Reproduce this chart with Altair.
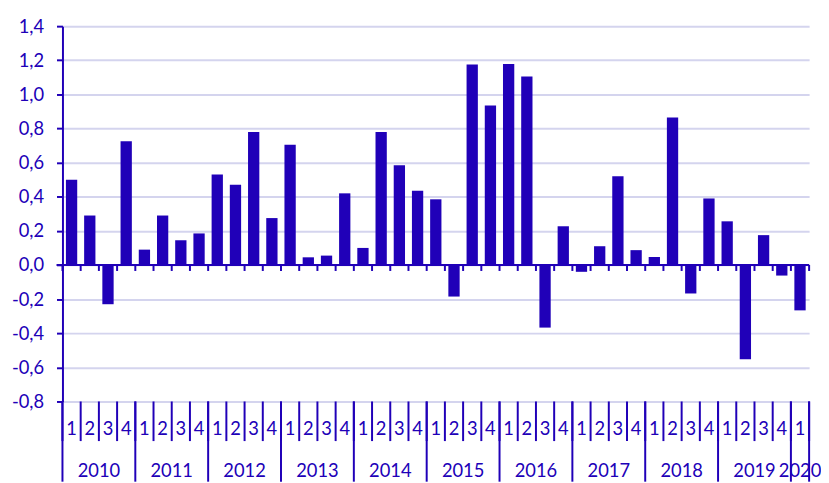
import altair as alt
import pandas as pd

years = ["2010", "2011", "2012", "2013", "2014", "2015", "2016", "2017", "2018", "2019", "2020"]
quarters = ["1", "2", "3", "4"]
values = [
    0.50, 0.29, -0.23, 0.725,
    0.09, 0.29, 0.145, 0.185,
    0.53, 0.47, 0.78, 0.275,
    0.705, 0.045, 0.055, 0.42,
    0.10, 0.78, 0.585, 0.435,
    0.385, -0.185, 1.175, 0.935,
    1.178, 1.105, -0.367, 0.227,
    -0.04, 0.11, 0.52, 0.087,
    0.047, 0.865, -0.167, 0.39,
    0.256, -0.552, 0.175, -0.062,
    -0.266,
]
y_ticks = [-0.8, -0.6, -0.4, -0.2, 0.0, 0.2, 0.4, 0.6, 0.8, 1.0, 1.2, 1.4]

BLUE = "#2000B8"
GRID = "#D4D4EE"
FONT = "Lato"
FS = 18.5

rows = []
for i, v in enumerate(values):
    rows.append({"i": i, "year": years[i // 4], "q": quarters[i % 4], "v": v})
df = pd.DataFrame(rows)

yr_rows = []
for k, y in enumerate(years):
    n = len([r for r in rows if r["year"] == y])
    yr_rows.append({"year": y, "start": k * 4, "mid": k * 4 + n / 2})
yr_rows.append({"year": "", "start": len(values), "mid": len(values)})
ydf = pd.DataFrame(yr_rows)

bnd = pd.DataFrame({"b": list(range(len(values) + 1))})

N = len(values)
xs = alt.Scale(domain=[0, N], nice=False, zero=False)
ys = alt.Scale(domain=[-0.8, 1.4], nice=False)

label_expr = "replace(replace(format(datum.value, '.1f'), '.', ','), '\u2212', '-')"

def yaxis():
    return alt.Axis(
        values=y_ticks,
        labelExpr=label_expr, title=None, labelOverlap=False,
        domainColor=BLUE, domainWidth=2, tickColor=BLUE, tickSize=6, tickWidth=2,
        gridColor=GRID, gridWidth=2, labelColor=BLUE, labelFont=FONT,
        labelFontSize=FS, labelPadding=13,
    )

bars = alt.Chart(df).transform_calculate(
    x0="datum.i + 0.19", x1="datum.i + 0.81", base="0"
).mark_bar(color=BLUE).encode(
    x=alt.X("x0:Q", scale=xs, axis=None),
    x2="x1:Q",
    y=alt.Y("v:Q", scale=ys, axis=yaxis()),
    y2="base:Q",
)

zero_line = alt.Chart(pd.DataFrame({"z": [0]})).mark_rule(color=BLUE, strokeWidth=2).encode(
    x=alt.value(-6), x2=alt.value(754), y=alt.Y("z:Q", scale=ys, axis=yaxis())
)

zero_ticks = alt.Chart(bnd).transform_calculate(z="0", z2="-0.035").mark_rule(
    color=BLUE, strokeWidth=2
).encode(x=alt.X("b:Q", scale=xs, axis=None), y=alt.Y("z:Q", scale=ys, axis=yaxis()), y2="z2:Q")

q_seps = alt.Chart(bnd).mark_rule(color=BLUE, strokeWidth=2).encode(
    x=alt.X("b:Q", scale=xs, axis=None), y=alt.value(379), y2=alt.value(419)
)

y_seps = alt.Chart(ydf).mark_rule(color=BLUE, strokeWidth=2).encode(
    x=alt.X("start:Q", scale=xs, axis=None), y=alt.value(379), y2=alt.value(460)
)

q_labels = alt.Chart(df).transform_calculate(c="datum.i + 0.5").mark_text(
    color=BLUE, font=FONT, fontSize=FS, baseline="middle"
).encode(x=alt.X("c:Q", scale=xs, axis=None), y=alt.value(407), text="q:N")

y_labels = alt.Chart(ydf[ydf["year"] != ""]).mark_text(
    color=BLUE, font=FONT, fontSize=FS, baseline="middle"
).encode(x=alt.X("mid:Q", scale=xs, axis=None), y=alt.value(449), text="year:N")

chart = alt.layer(bars, zero_line, zero_ticks, q_seps, y_seps, q_labels, y_labels).properties(
    width=754, height=379,
    autosize=alt.AutoSizeParams(type="none"),
    padding={"left": 55, "top": 16, "right": 12, "bottom": 80},
).configure_view(stroke=None)

chart.save("out.html", embed_options={"renderer": "svg", "actions": False})
